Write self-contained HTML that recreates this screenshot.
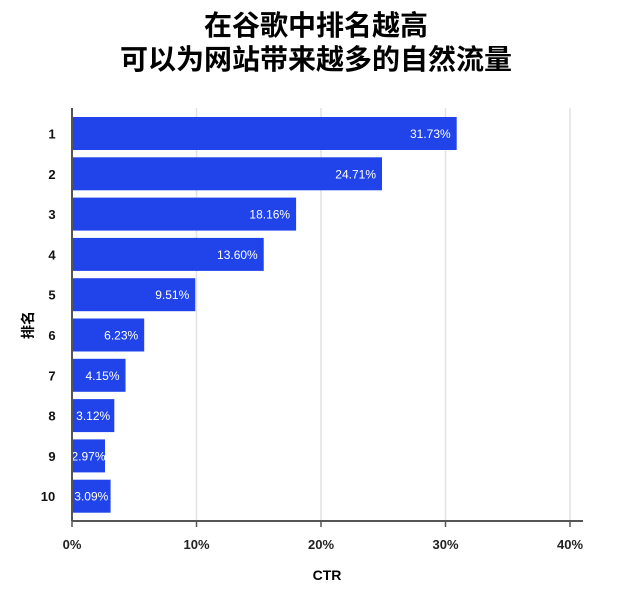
<!DOCTYPE html>
<html><head><meta charset="utf-8"><style>
body{margin:0;background:#fff;width:632px;height:592px;overflow:hidden;font-family:"Liberation Sans","Noto Sans CJK SC",sans-serif}
</style></head><body>
<svg width="632" height="592">
<text x="316" y="35" text-anchor="middle" font-size="28" font-weight="bold" fill="#000" font-family="Liberation Sans, Noto Sans CJK SC, sans-serif">在谷歌中排名越高</text>
<text x="316" y="69" text-anchor="middle" font-size="28" font-weight="bold" fill="#000" font-family="Liberation Sans, Noto Sans CJK SC, sans-serif">可以为网站带来越多的自然流量</text>
<g id="grid"></g><g id="bars"></g><g id="axes"></g>
<text x="0" y="0" transform="translate(33,325) rotate(-90)" text-anchor="middle" font-size="14" font-weight="bold" font-family="Liberation Sans, Noto Sans CJK SC, sans-serif">排名</text>
<text x="327" y="580" text-anchor="middle" font-size="14" font-weight="bold">CTR</text>
</svg>
<script>
const categories=["1","2","3","4","5","6","7","8","9","10"];
const values=[30.9,24.9,18.0,15.4,9.9,5.8,4.3,3.4,2.65,3.1];
const valueLabels=["31.73%","24.71%","18.16%","13.60%","9.51%","6.23%","4.15%","3.12%","2.97%","3.09%"];
const ticks=[0,10,20,30,40];
const tickLabels=["0%","10%","20%","30%","40%"];
const NS="http://www.w3.org/2000/svg";
const x0=72,pxPer=12.45,topY=113,band=40.3,bh=33;
const xs=v=>x0+v*pxPer, ys=i=>topY+i*band;
function mk(t,a,p){const e=document.createElementNS(NS,t);for(const k in a)e.setAttribute(k,a[k]);p.appendChild(e);return e;}
const g=document.getElementById('grid'),b=document.getElementById('bars'),ax=document.getElementById('axes');
ticks.forEach((t,i)=>{
 const l=mk('line',{x1:xs(t),x2:xs(t),y1:108,y2:521,stroke:'#e2e2e2','stroke-width':1.5},g);
 
 
 const tk=mk('line',{x1:xs(t),x2:xs(t),y1:521,y2:527,stroke:'#555','stroke-width':1.5},ax);
 
 
 const tx=mk('text',{x:xs(t),y:549,'text-anchor':'middle','font-size':13,'font-weight':'bold',fill:'#222'},ax);
 tx.textContent=tickLabels[i];
 
 
});
categories.forEach((c,i)=>{
 const y=ys(i)+4;
 const r=mk('rect',{x:x0,y:y,width:xs(values[i])-x0,height:bh,fill:'#2044ea'},b);
 
 
 const small=values[i]<4;
 const v=mk('text',{x:small?(x0+xs(values[i]))/2:xs(values[i])-6,y:y+bh/2+4.5,'text-anchor':small?'middle':'end','font-size':12,fill:'#fff',style:'font-family:"Liberation Sans Narrow","Liberation Sans",sans-serif'},b);
 v.textContent=valueLabels[i];
 
 
 const cl=mk('text',{x:c.length>1?48:52,y:y+bh/2+5,'text-anchor':'middle','font-size':13,'font-weight':'bold',fill:'#111'},ax);
 cl.textContent=c;
 
 
});
const xa=mk('line',{x1:x0,x2:583,y1:521,y2:521,stroke:'#555','stroke-width':2},ax);


const ya=mk('line',{x1:x0,x2:x0,y1:108,y2:521,stroke:'#555','stroke-width':2},ax);


</script>
</body></html>
